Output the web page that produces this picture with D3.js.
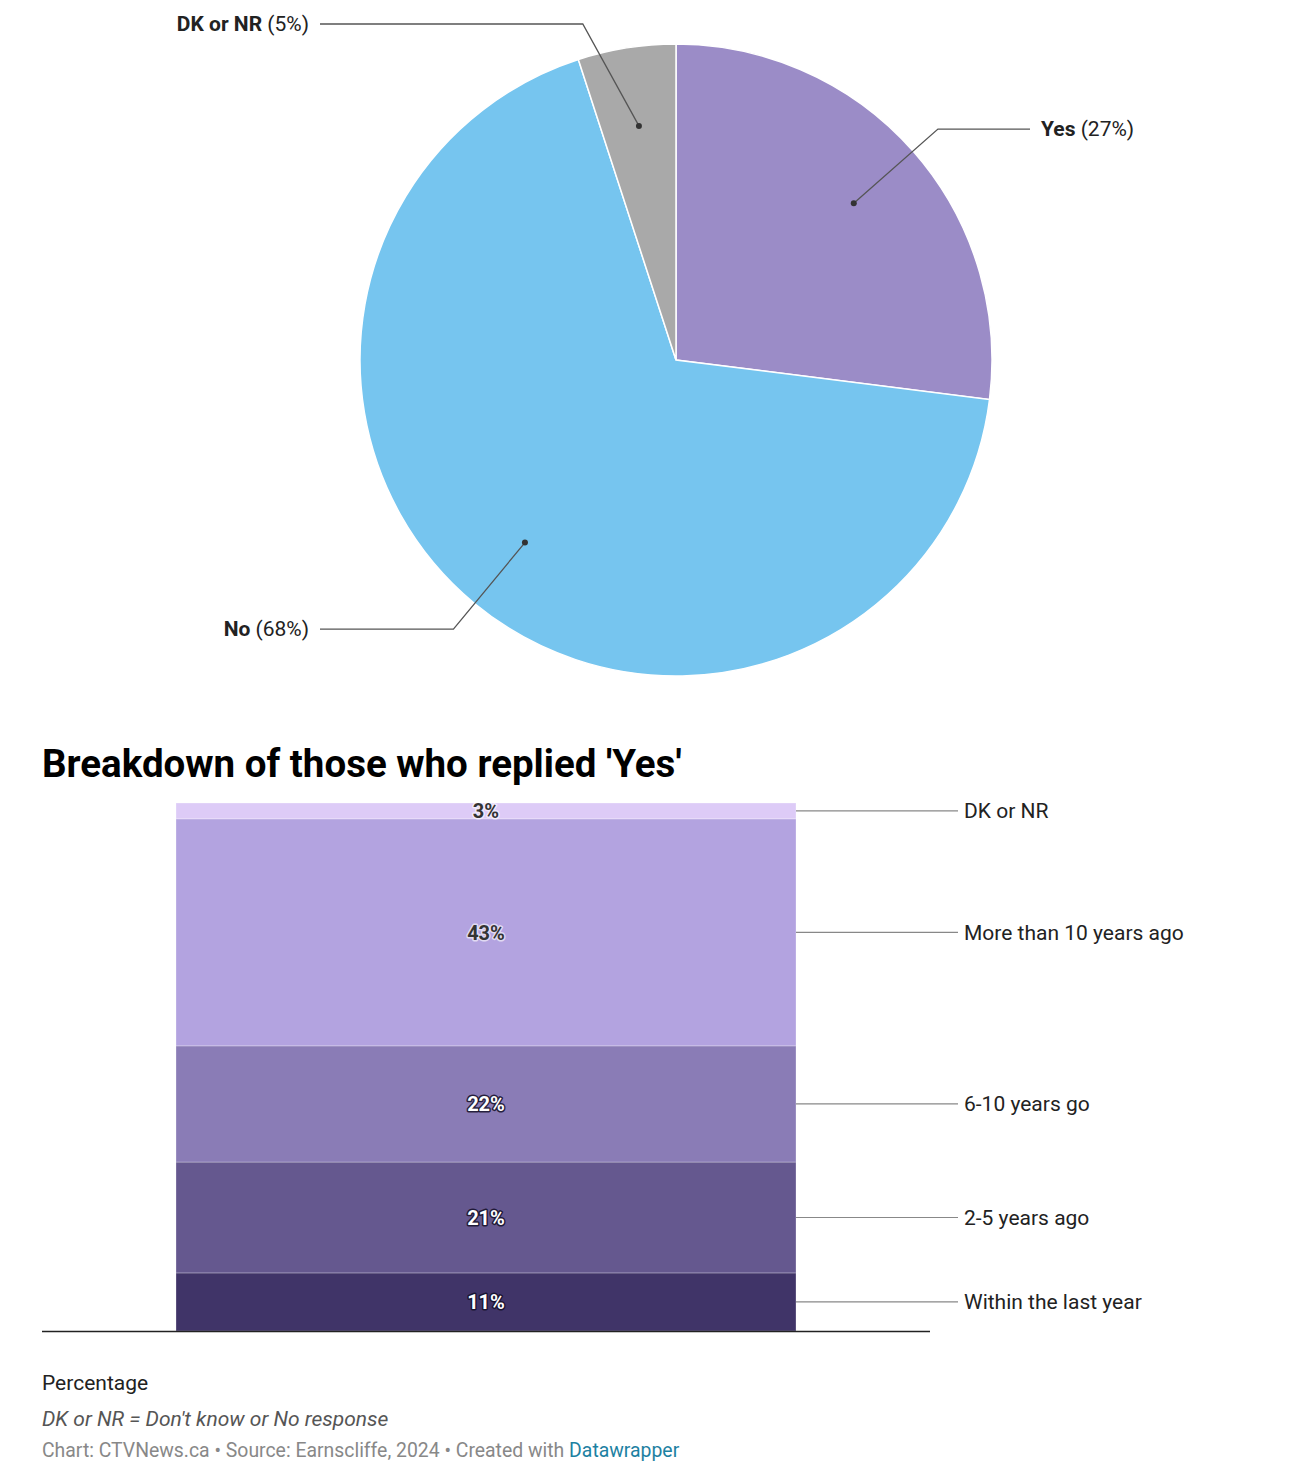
<!DOCTYPE html>
<html>
<head>
<meta charset="utf-8">
<script src="https://cdn.jsdelivr.net/npm/d3@7"></script>
<style>
  body { margin: 0; background: #fff; }
  svg { font-family: Roboto, "Noto Sans", sans-serif; }
</style>
</head>
<body>
<svg id="chart" width="1290" height="1480"></svg>
<script>
// pie data
const pieLabels = ["Yes", "No", "DK or NR"];
const pieValues = [27, 68, 5];
const pieColors = ["#9b8cc7", "#76c5ef", "#a9a9a9"];

// stacked bar data (bottom to top)
const barCategories = ["Within the last year", "2-5 years ago", "6-10 years go", "More than 10 years ago", "DK or NR"];
const barValues = [11, 21, 22, 43, 3];
const barColors = ["#403468", "#65588f", "#8a7cb6", "#b3a3e0", "#ddcbf7"];
const barTextDark = [false, false, false, true, true];

const svg = d3.select('#chart');

// ---- pie ----
const cx = 676, cy = 360, radius = 316;
const pieData = pieLabels.map((l, i) => ({label: l, value: pieValues[i], color: pieColors[i]}));
const pie = d3.pie().sort(null).value(d => d.value);
const arc = d3.arc().innerRadius(0).outerRadius(radius);
const dotArc = d3.arc().innerRadius(radius * 0.75).outerRadius(radius * 0.75);
const elbowArc = d3.arc().innerRadius(radius * 1.105).outerRadius(radius * 1.105);
const arcs = pie(pieData);

const pg = svg.append('g').attr('transform', 'translate(' + cx + ',' + cy + ')');

pg.selectAll('path.slice')
  .data(arcs)
  .enter().append('path')
  .attr('class', 'slice')
  .attr('d', arc)
  .attr('fill', d => d.data.color)
  .attr('stroke', '#fff')
  .attr('stroke-width', 1.5);

const midAngle = d => (d.startAngle + d.endAngle) / 2;
const isRight = d => midAngle(d) < Math.PI;
// elbow point, kept inside the top edge of the frame
const elbow = d => {
  const p = elbowArc.centroid(d);
  const minY = 24 - cy;
  if (p[1] < minY) {
    const dot = dotArc.centroid(d);
    const t = (minY - dot[1]) / (p[1] - dot[1]);
    return [dot[0] + (p[0] - dot[0]) * t - 40 * (isRight(d) ? -1 : 1), minY];
  }
  return p;
};

pg.selectAll('polyline.leader')
  .data(arcs)
  .enter().append('polyline')
  .attr('class', 'leader')
  .attr('points', d => {
    const p1 = dotArc.centroid(d);
    const p2 = elbow(d);
    const p3 = [isRight(d) ? 1030 - cx : 320 - cx, p2[1]];
    return [p1, p2, p3].map(p => p.join(',')).join(' ');
  })
  .attr('fill', 'none')
  .attr('stroke', '#555')
  .attr('stroke-width', 1.3);

pg.selectAll('circle.dot')
  .data(arcs)
  .enter().append('circle')
  .attr('class', 'dot')
  .attr('cx', d => dotArc.centroid(d)[0])
  .attr('cy', d => dotArc.centroid(d)[1])
  .attr('r', 3)
  .attr('fill', '#333');

const pieText = pg.selectAll('text.plabel')
  .data(arcs)
  .enter().append('text')
  .attr('class', 'plabel')
  .attr('x', d => isRight(d) ? 1041 - cx : 309 - cx)
  .attr('y', d => elbow(d)[1])
  .attr('dy', '0.35em')
  .attr('text-anchor', d => isRight(d) ? 'start' : 'end')
  .style('font-size', '21px')
  .style('fill', '#222');
pieText.append('tspan').style('font-weight', 'bold').text(d => d.data.label);
pieText.append('tspan').text(d => ' (' + d.data.value + '%)');

// ---- stacked bar ----
svg.append('text')
  .attr('x', 42)
  .attr('y', 777)
  .text("Breakdown of those who replied 'Yes'")
  .style('font-size', '38.5px')
  .style('font-weight', 'bold')
  .style('fill', '#000');

const yScale = d3.scaleLinear().domain([0, 100]).range([1331, 803]);
const xScale = d3.scaleLinear().domain([0, 1]).range([176, 796]);

const stackData = [];
let acc = 0;
barCategories.forEach((c, i) => {
  stackData.push({cat: c, value: barValues[i], y0: acc, y1: acc + barValues[i], color: barColors[i], dark: barTextDark[i]});
  acc += barValues[i];
});

const bg = svg.append('g');

bg.selectAll('rect.seg')
  .data(stackData)
  .enter().append('rect')
  .attr('class', 'seg')
  .attr('x', xScale(0))
  .attr('width', xScale(1) - xScale(0))
  .attr('y', d => yScale(d.y1))
  .attr('height', d => yScale(d.y0) - yScale(d.y1))
  .attr('fill', d => d.color)
  .attr('stroke', 'rgba(255,255,255,0.35)')
  .attr('stroke-width', 0.8);

// value labels with halo
const midY = d => yScale((d.y0 + d.y1) / 2);
bg.selectAll('text.halo')
  .data(stackData)
  .enter().append('text')
  .attr('class', 'halo')
  .attr('x', xScale(0.5))
  .attr('y', midY)
  .attr('dy', '0.36em')
  .attr('text-anchor', 'middle')
  .text(d => d.value + '%')
  .style('font-size', '20px')
  .style('font-weight', 'bold')
  .style('fill', 'none')
  .style('stroke', d => d.dark ? 'rgba(255,255,255,0.6)' : 'rgba(20,15,40,0.85)')
  .style('stroke-width', 3)
  .style('stroke-linejoin', 'round');

bg.selectAll('text.val')
  .data(stackData)
  .enter().append('text')
  .attr('class', 'val')
  .attr('x', xScale(0.5))
  .attr('y', midY)
  .attr('dy', '0.36em')
  .attr('text-anchor', 'middle')
  .text(d => d.value + '%')
  .style('font-size', '20px')
  .style('font-weight', 'bold')
  .style('fill', d => d.dark ? '#333' : '#fff');

// right side labels
bg.selectAll('line.lbl')
  .data(stackData)
  .enter().append('line')
  .attr('class', 'lbl')
  .attr('x1', xScale(1))
  .attr('x2', 958)
  .attr('y1', midY)
  .attr('y2', midY)
  .attr('stroke', '#888')
  .attr('stroke-width', 1.2);

bg.selectAll('text.cat')
  .data(stackData)
  .enter().append('text')
  .attr('class', 'cat')
  .attr('x', 964)
  .attr('y', midY)
  .attr('dy', '0.35em')
  .text(d => d.cat)
  .style('font-size', '21px')
  .style('fill', '#222');

// baseline
svg.append('line')
  .attr('x1', 42).attr('x2', 930)
  .attr('y1', yScale(0) + 0.5).attr('y2', yScale(0) + 0.5)
  .attr('stroke', '#222')
  .attr('stroke-width', 1.6);

// ---- footer ----
svg.append('text')
  .attr('x', 42).attr('y', 1390)
  .text('Percentage')
  .style('font-size', '21px')
  .style('fill', '#222');

svg.append('text')
  .attr('x', 42).attr('y', 1426)
  .text("DK or NR = Don't know or No response")
  .style('font-size', '21px')
  .style('font-style', 'italic')
  .style('fill', '#555');

const credit = svg.append('text')
  .attr('x', 42).attr('y', 1457)
  .style('font-size', '19.4px')
  .style('fill', '#888');
credit.append('tspan').text('Chart: CTVNews.ca \u2022 Source: Earnscliffe, 2024 \u2022 Created with ');
credit.append('tspan').text('Datawrapper').style('fill', '#1d81a2');
</script>
</body>
</html>
